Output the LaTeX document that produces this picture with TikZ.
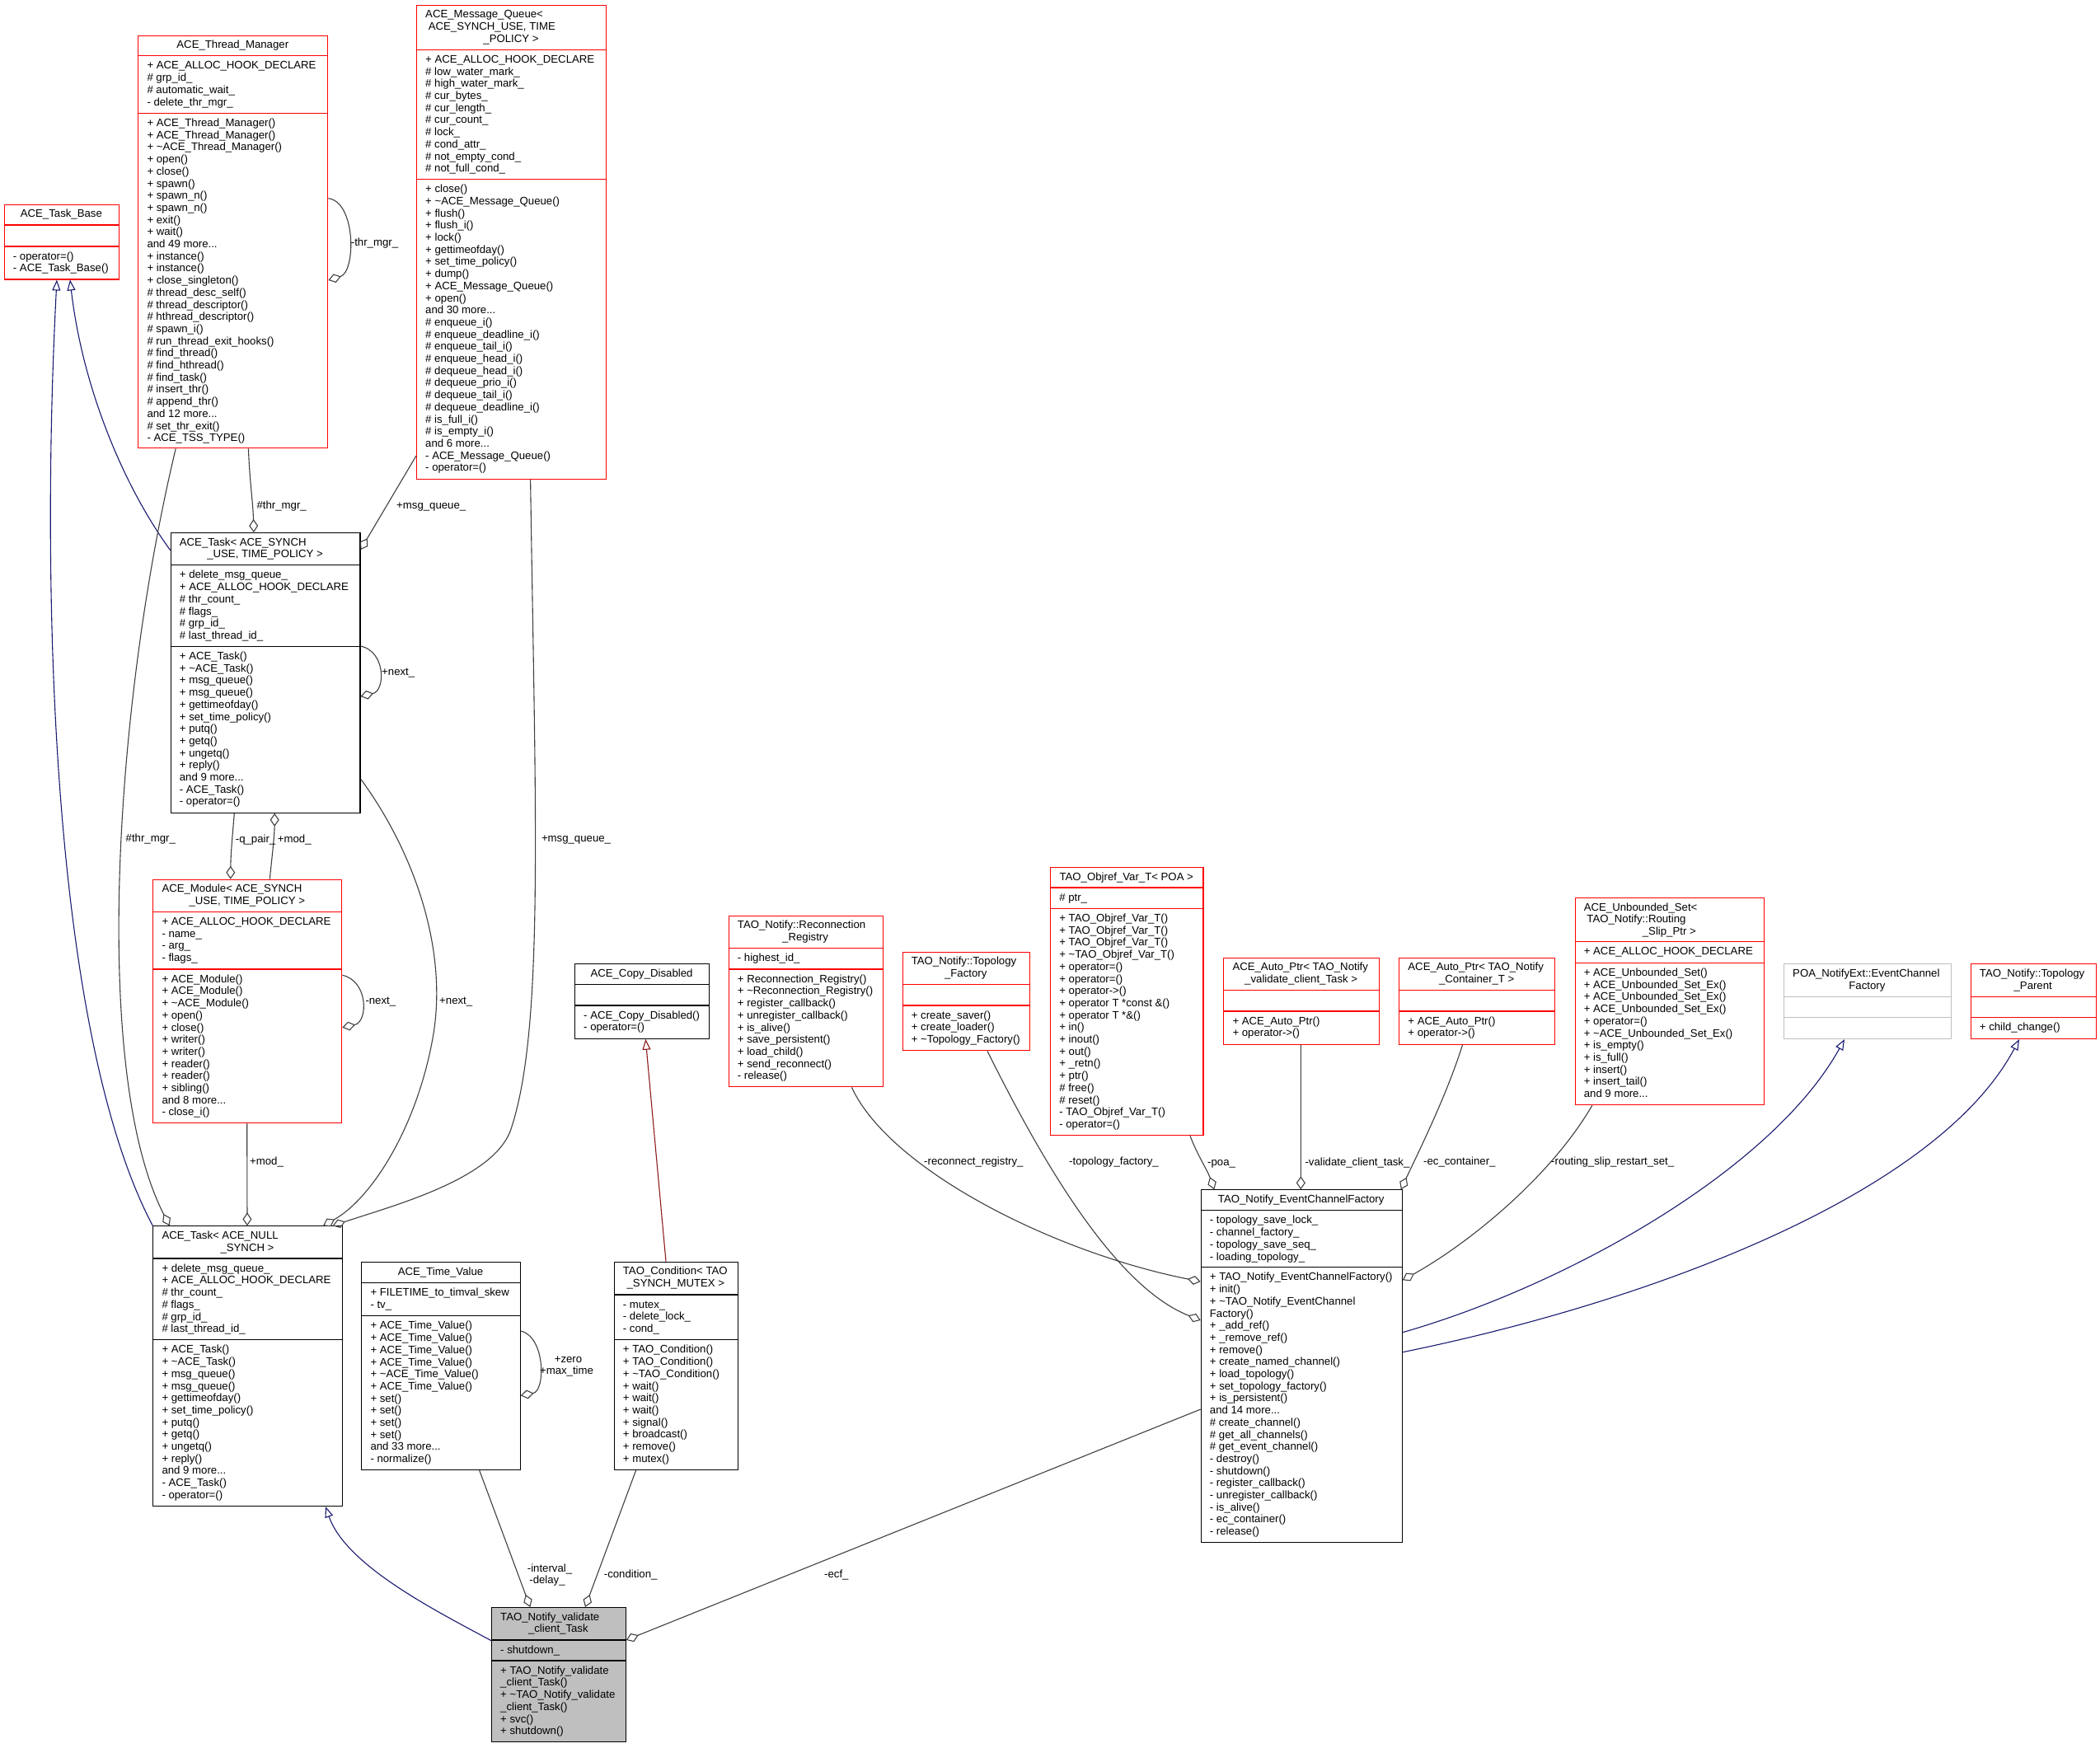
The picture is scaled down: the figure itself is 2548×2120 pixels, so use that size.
\documentclass[tikz,border=0pt]{standalone}
\usepackage{fontspec}
\setmainfont{Liberation Sans}
\usetikzlibrary{arrows.meta,calc}
\definecolor{edgegray}{HTML}{404040}
\definecolor{navyblue}{HTML}{191970}
\definecolor{firebrick}{HTML}{8B1A1A}
\definecolor{boxgray}{HTML}{BFBFBF}
\definecolor{boxred}{HTML}{FF0000}
\newcommand{\tld}{\textasciitilde}
\newcommand{\umlclass}[9][]{%
  \node[clsnode, draw=#3, #1, minimum width={#6-#4}, minimum height={#7-#5}] (#2) at (#4,#5) {};%
  \draw[draw=#3, line width=1.1pt] (#4,#8) -- (#6,#8) (#4,#9) -- (#6,#9);%
}
\newcommand{\ctitle}[4]{\node[txt, anchor=base] (#1) at ({#2},{#3}) {#4};}
\newcommand{\lblock}[4]{\node[txt, anchor=north west, align=left] (#1) at ({#2},{#3}) {\rule{0pt}{11pt}#4};}
\newcommand{\elabel}[4]{\node[txt, anchor=base west] (#1) at ({#2},{#3}) {#4};}
\newcommand{\clabel}[4]{\node[txt, anchor=base] (#1) at ({#2},{#3}) {#4};}
\catcode`\_=12
\begin{document}
\begin{tikzpicture}[x=1pt,y=-1pt,
  txt/.style={font=\fontsize{13.2}{14.7}\selectfont, inner sep=0pt, text=black},
  clsnode/.style={rectangle, anchor=north west, inner sep=0pt, line width=1.1pt},
  usage/.style={draw=edgegray, line width=1.1pt, -{Diamond[open,length=16pt,width=11pt]}},
  inh/.style={draw=navyblue, line width=1.1pt, -{Triangle[open,length=13pt,width=10pt]}},
  pinh/.style={draw=firebrick, line width=1.1pt, -{Triangle[open,length=13pt,width=10pt]}}]
\useasboundingbox (0,0) rectangle (2548,2120);
\fill[white] (0,0) rectangle (2548,2120);

% ACE_Thread_Manager
\umlclass{tm}{boxred}{167.3}{42.7}{397.3}{543.3}{67.7}{137.3}
\ctitle{tmT}{282.3}{58.7}{ACE_Thread_Manager}
\lblock{tmA}{178.3}{72.7}{+ ACE_ALLOC_HOOK_DECLARE\\\# grp_id_\\\# automatic_wait_\\- delete_thr_mgr_}
\lblock{tmM}{178.3}{142.3}{+ ACE_Thread_Manager()\\+ ACE_Thread_Manager()\\+ \tld ACE_Thread_Manager()\\+ open()\\+ close()\\+ spawn()\\+ spawn_n()\\+ spawn_n()\\+ exit()\\+ wait()\\and 49 more...\\+ instance()\\+ instance()\\+ close_singleton()\\\# thread_desc_self()\\\# thread_descriptor()\\\# hthread_descriptor()\\\# spawn_i()\\\# run_thread_exit_hooks()\\\# find_thread()\\\# find_hthread()\\\# find_task()\\\# insert_thr()\\\# append_thr()\\and 12 more...\\\# set_thr_exit()\\- ACE_TSS_TYPE()}

% ACE_Message_Queue
\umlclass{mq}{boxred}{505}{5.6}{735}{580.5}{60.2}{217.5}
\lblock{mqT}{516}{10.6}{ACE_Message_Queue<\\\hspace*{3.6pt}ACE_SYNCH_USE, TIME}
\ctitle{mqT2}{620}{51}{_POLICY >}
\lblock{mqA}{516}{65.2}{+ ACE_ALLOC_HOOK_DECLARE\\\# low_water_mark_\\\# high_water_mark_\\\# cur_bytes_\\\# cur_length_\\\# cur_count_\\\# lock_\\\# cond_attr_\\\# not_empty_cond_\\\# not_full_cond_}
\lblock{mqM}{516}{222.5}{+ close()\\+ \tld ACE_Message_Queue()\\+ flush()\\+ flush_i()\\+ lock()\\+ gettimeofday()\\+ set_time_policy()\\+ dump()\\+ ACE_Message_Queue()\\+ open()\\and 30 more...\\\# enqueue_i()\\\# enqueue_deadline_i()\\\# enqueue_tail_i()\\\# enqueue_head_i()\\\# dequeue_head_i()\\\# dequeue_prio_i()\\\# dequeue_tail_i()\\\# dequeue_deadline_i()\\\# is_full_i()\\\# is_empty_i()\\and 6 more...\\- ACE_Message_Queue()\\- operator=()}

% ACE_Task_Base
\umlclass{tb}{boxred}{4.7}{247.8}{144}{338.4}{273}{299}
\ctitle{tbT}{74.35}{263.8}{ACE_Task_Base}
\lblock{tbM}{15.7}{304}{- operator=()\\- ACE_Task_Base()}

% ACE_Task< ACE_SYNCH_USE, TIME_POLICY >
\umlclass{ts}{black}{206.7}{646}{436.4}{985.7}{685.7}{784.3}
\lblock{tsT}{217.7}{651}{ACE_Task< ACE_SYNCH}
\ctitle{tsT2}{321.55}{676.7}{_USE, TIME_POLICY >}
\lblock{tsA}{217.7}{690.7}{+ delete_msg_queue_\\+ ACE_ALLOC_HOOK_DECLARE\\\# thr_count_\\\# flags_\\\# grp_id_\\\# last_thread_id_}
\lblock{tsM}{217.7}{789.3}{+ ACE_Task()\\+ \tld ACE_Task()\\+ msg_queue()\\+ msg_queue()\\+ gettimeofday()\\+ set_time_policy()\\+ putq()\\+ getq()\\+ ungetq()\\+ reply()\\and 9 more...\\- ACE_Task()\\- operator=()}

% ACE_Module
\umlclass{mod}{boxred}{185.3}{1066.7}{414.3}{1362.3}{1106.3}{1176}
\lblock{modT}{196.3}{1071.7}{ACE_Module< ACE_SYNCH}
\ctitle{modT2}{299.8}{1097.4}{_USE, TIME_POLICY >}
\lblock{modA}{196.3}{1111.3}{+ ACE_ALLOC_HOOK_DECLARE\\- name_\\- arg_\\- flags_}
\lblock{modM}{196.3}{1181}{+ ACE_Module()\\+ ACE_Module()\\+ \tld ACE_Module()\\+ open()\\+ close()\\+ writer()\\+ writer()\\+ reader()\\+ reader()\\+ sibling()\\and 8 more...\\- close_i()}

% ACE_Task< ACE_NULL_SYNCH >
\umlclass{tn}{black}{185.3}{1487.3}{414.7}{1827}{1527}{1625.7}
\lblock{tnT}{196.3}{1492.3}{ACE_Task< ACE_NULL}
\ctitle{tnT2}{300}{1518}{_SYNCH >}
\lblock{tnA}{196.3}{1532}{+ delete_msg_queue_\\+ ACE_ALLOC_HOOK_DECLARE\\\# thr_count_\\\# flags_\\\# grp_id_\\\# last_thread_id_}
\lblock{tnM}{196.3}{1630.7}{+ ACE_Task()\\+ \tld ACE_Task()\\+ msg_queue()\\+ msg_queue()\\+ gettimeofday()\\+ set_time_policy()\\+ putq()\\+ getq()\\+ ungetq()\\+ reply()\\and 9 more...\\- ACE_Task()\\- operator=()}

% ACE_Time_Value
\umlclass{tv}{black}{438.3}{1531}{630.7}{1783}{1556.7}{1596.7}
\ctitle{tvT}{534.5}{1547}{ACE_Time_Value}
\lblock{tvA}{449.3}{1561.7}{+ FILETIME_to_timval_skew\\- tv_}
\lblock{tvM}{449.3}{1601.7}{+ ACE_Time_Value()\\+ ACE_Time_Value()\\+ ACE_Time_Value()\\+ ACE_Time_Value()\\+ \tld ACE_Time_Value()\\+ ACE_Time_Value()\\+ set()\\+ set()\\+ set()\\+ set()\\and 33 more...\\- normalize()}

% ACE_Copy_Disabled
\umlclass{cd}{black}{697}{1169.3}{860}{1259.7}{1194.3}{1220}
\ctitle{cdT}{778.5}{1185.3}{ACE_Copy_Disabled}
\lblock{cdM}{708}{1225}{- ACE_Copy_Disabled()\\- operator=()}

% TAO_Condition
\umlclass{tc}{black}{744.7}{1530.7}{895}{1782.7}{1571}{1625.7}
\lblock{tcT}{755.7}{1535.7}{TAO_Condition< TAO}
\ctitle{tcT2}{819.85}{1561.4}{_SYNCH_MUTEX >}
\lblock{tcA}{755.7}{1576}{- mutex_\\- delete_lock_\\- cond_}
\lblock{tcM}{755.7}{1630.7}{+ TAO_Condition()\\+ TAO_Condition()\\+ \tld TAO_Condition()\\+ wait()\\+ wait()\\+ wait()\\+ signal()\\+ broadcast()\\+ remove()\\+ mutex()}

% TAO_Notify_validate_client_Task
\umlclass[fill=boxgray]{vt}{black}{596}{1950}{758.7}{2113.3}{1990}{2015}
\lblock{vtT}{607}{1955}{TAO_Notify_validate}
\ctitle{vtT2}{677.35}{1980.7}{_client_Task}
\lblock{vtA}{607}{1995}{- shutdown_}
\lblock{vtM}{607}{2020}{+ TAO_Notify_validate\\_client_Task()\\+ \tld TAO_Notify_validate\\_client_Task()\\+ svc()\\+ shutdown()}

% TAO_Notify::Reconnection_Registry
\umlclass{rr}{boxred}{883.7}{1110.7}{1070.5}{1318.3}{1150.7}{1176}
\lblock{rrT}{894.7}{1115.7}{TAO_Notify::Reconnection}
\ctitle{rrT2}{977.1}{1141.4}{_Registry}
\lblock{rrA}{894.7}{1155.7}{- highest_id_}
\lblock{rrM}{894.7}{1181}{+ Reconnection_Registry()\\+ \tld Reconnection_Registry()\\+ register_callback()\\+ unregister_callback()\\+ is_alive()\\+ save_persistent()\\+ load_child()\\+ send_reconnect()\\- release()}

% TAO_Notify::Topology_Factory
\umlclass{tf}{boxred}{1094.6}{1154.7}{1248.9}{1274.3}{1194.7}{1220}
\lblock{tfT}{1105.6}{1159.7}{TAO_Notify::Topology}
\ctitle{tfT2}{1171.75}{1185.4}{_Factory}
\lblock{tfM}{1105.6}{1225}{+ create_saver()\\+ create_loader()\\+ \tld Topology_Factory()}

% TAO_Objref_Var_T< POA >
\umlclass{ov}{boxred}{1274.1}{1052}{1459.4}{1377}{1077}{1102.3}
\ctitle{ovT}{1366.75}{1068}{TAO_Objref_Var_T< POA >}
\lblock{ovA}{1285.1}{1082}{\# ptr_}
\lblock{ovM}{1285.1}{1107.3}{+ TAO_Objref_Var_T()\\+ TAO_Objref_Var_T()\\+ TAO_Objref_Var_T()\\+ \tld TAO_Objref_Var_T()\\+ operator=()\\+ operator=()\\+ operator->()\\+ operator T *const \&()\\+ operator T *\&()\\+ in()\\+ inout()\\+ out()\\+ _retn()\\+ ptr()\\\# free()\\\# reset()\\- TAO_Objref_Var_T()\\- operator=()}

% ACE_Auto_Ptr< TAO_Notify_validate_client_Task >
\umlclass{apa}{boxred}{1484.3}{1161.7}{1673}{1267}{1201.7}{1227}
\lblock{apaT}{1495.3}{1166.7}{ACE_Auto_Ptr< TAO_Notify}
\ctitle{apaT2}{1578.65}{1192.4}{_validate_client_Task >}
\lblock{apaM}{1495.3}{1232}{+ ACE_Auto_Ptr()\\+ operator->()}

% ACE_Auto_Ptr< TAO_Notify_Container_T >
\umlclass{apb}{boxred}{1697.2}{1161.7}{1886.3}{1267}{1201.7}{1227}
\lblock{apbT}{1708.2}{1166.7}{ACE_Auto_Ptr< TAO_Notify}
\ctitle{apbT2}{1791.75}{1192.4}{_Container_T >}
\lblock{apbM}{1708.2}{1232}{+ ACE_Auto_Ptr()\\+ operator->()}

% ACE_Unbounded_Set
\umlclass{us}{boxred}{1910.6}{1089}{2140}{1340.3}{1142.7}{1168.3}
\lblock{usT}{1921.6}{1094}{ACE_Unbounded_Set<\\\hspace*{3.6pt}TAO_Notify::Routing}
\ctitle{usT2}{2025.3}{1134.4}{_Slip_Ptr >}
\lblock{usA}{1921.6}{1147.7}{+ ACE_ALLOC_HOOK_DECLARE}
\lblock{usM}{1921.6}{1173.3}{+ ACE_Unbounded_Set()\\+ ACE_Unbounded_Set_Ex()\\+ ACE_Unbounded_Set_Ex()\\+ ACE_Unbounded_Set_Ex()\\+ operator=()\\+ \tld ACE_Unbounded_Set_Ex()\\+ is_empty()\\+ is_full()\\+ insert()\\+ insert_tail()\\and 9 more...}

% POA_NotifyExt::EventChannelFactory
\umlclass{poa}{boxgray}{2164}{1169.3}{2366.7}{1260}{1209.3}{1234.3}
\lblock{poaT}{2175}{1174.3}{POA_NotifyExt::EventChannel}
\ctitle{poaT2}{2265.35}{1200}{Factory}

% TAO_Notify::Topology_Parent
\umlclass{tp}{boxred}{2390.7}{1169.3}{2542.7}{1260}{1209.3}{1234.3}
\lblock{tpT}{2401.7}{1174.3}{TAO_Notify::Topology}
\ctitle{tpT2}{2466.7}{1200}{_Parent}
\lblock{tpM}{2401.7}{1239.3}{+ child_change()}

% TAO_Notify_EventChannelFactory
\umlclass{ecf}{black}{1456.7}{1443.3}{1700.7}{1870.7}{1468.7}{1537.7}
\ctitle{ecfT}{1578.7}{1459.3}{TAO_Notify_EventChannelFactory}
\lblock{ecfA}{1467.7}{1473.7}{- topology_save_lock_\\- channel_factory_\\- topology_save_seq_\\- loading_topology_}
\lblock{ecfM}{1467.7}{1542.7}{+ TAO_Notify_EventChannelFactory()\\+ init()\\+ \tld TAO_Notify_EventChannel\\Factory()\\+ _add_ref()\\+ _remove_ref()\\+ remove()\\+ create_named_channel()\\+ load_topology()\\+ set_topology_factory()\\+ is_persistent()\\and 14 more...\\\# create_channel()\\\# get_all_channels()\\\# get_event_channel()\\- destroy()\\- shutdown()\\- register_callback()\\- unregister_callback()\\- is_alive()\\- ec_container()\\- release()}

% ---------------- connectors ----------------
\draw[inh] (tn.north west) .. controls (60,1250) and (50,700) .. ($(tb.south west)+(64.3,0)$);
\draw[inh] ($(ts.north west)+(0,21.7)$) .. controls (150,590) and (100,470) .. ($(tb.south west)+(80.3,0)$);
\draw[usage] ($(tm.south west)+(134.1,0)$) .. controls (303,585) and (307,610) .. ($(ts.north west)+(101.2,0)$);
\draw[usage] ($(tm.south west)+(45.9,0)$) .. controls (140,850) and (110,1300) .. ($(tn.north west)+(20.4,0)$);
\draw[usage] ($(tm.north east)+(0,198)$) .. controls (432,245) and (432,330) .. ($(tm.north east)+(0,297.3)$);
\draw[usage] ($(mq.north west)+(0,547.4)$) -- ($(ts.north east)+(0,21)$);
\draw[usage] ($(mq.south west)+(138.6,0)$) .. controls (650,1000) and (660,1250) .. (620,1370) .. controls (600,1430) and (480,1462) .. ($(tn.north west)+(218.4,0)$);
\draw[usage] ($(ts.north east)+(0,299)$) .. controls (500,1030) and (545,1150) .. (525,1260) .. controls (505,1370) and (450,1455) .. ($(tn.north west)+(206.7,0)$);
\draw[usage] ($(ts.north east)+(0,138)$) .. controls (468,790) and (468,838) .. ($(ts.north east)+(0,199)$);
\draw[usage] ($(ts.south west)+(77.6,0)$) .. controls (282,1015) and (280,1035) .. ($(mod.north west)+(94.4,0)$);
\draw[usage] ($(mod.north west)+(142,0)$) .. controls (330,1040) and (333,1015) .. ($(ts.south west)+(126.6,0)$);
\draw[usage] ($(mod.north east)+(0,116.6)$) .. controls (447,1190) and (447,1240) .. ($(mod.north east)+(0,180)$);
\draw[usage] ($(mod.south west)+(114.4,0)$) -- ($(tn.north west)+(114.7,0)$);
\draw[inh] ($(vt.north west)+(0,40.7)$) .. controls (530,1955) and (420,1900) .. ($(tn.south west)+(209.7,0)$);
\draw[usage] ($(tv.south west)+(143.4,0)$) -- ($(vt.north west)+(47.3,0)$);
\draw[usage] ($(tv.north east)+(0,84)$) .. controls (662,1622) and (662,1688) .. ($(tv.north east)+(0,162.3)$);
\draw[usage] ($(tc.south west)+(27,0)$) -- ($(vt.north west)+(114,0)$);
\draw[pinh] ($(tc.north west)+(63.3,0)$) -- ($(cd.south west)+(86.3,0)$);
\draw[usage] ($(ecf.north west)+(0,266.7)$) -- ($(vt.north east)+(0,40)$);
\draw[usage] ($(rr.south west)+(149.7,0)$) .. controls (1080,1420) and (1280,1520) .. ($(ecf.north west)+(0,111.7)$);
\draw[usage] ($(tf.south west)+(103.4,0)$) .. controls (1260,1400) and (1350,1560) .. ($(ecf.north west)+(0,158.7)$);
\draw[usage] ($(ov.south west)+(169.9,0)$) .. controls (1452,1400) and (1465,1420) .. ($(ecf.north west)+(16.6,0)$);
\draw[usage] ($(apa.south west)+(94.1,0)$) -- ($(ecf.north west)+(121.6,0)$);
\draw[usage] ($(apb.south west)+(77.2,0)$) .. controls (1755,1330) and (1720,1400) .. ($(ecf.north east)+(-2,0)$);
\draw[usage] ($(us.south west)+(21.2,0)$) .. controls (1880,1430) and (1780,1510) .. ($(ecf.north east)+(0,110)$);
\draw[inh] ($(ecf.north east)+(0,173.4)$) .. controls (1900,1560) and (2150,1420) .. ($(poa.south west)+(74,0)$);
\draw[inh] ($(ecf.north east)+(0,197.4)$) .. controls (2000,1580) and (2350,1450) .. ($(tp.south west)+(59.3,0)$);

% ---------------- labels ----------------
\elabel{l1}{425.7}{298.5}{-thr_mgr_}
\elabel{l2}{311.4}{617.2}{\#thr_mgr_}
\elabel{l3}{481}{617.2}{+msg_queue_}
\elabel{l4}{463}{819.5}{+next_}
\elabel{l5}{152.5}{1021.8}{\#thr_mgr_}
\elabel{l6}{285.7}{1022.5}{-q_pair_}
\elabel{l7}{336.7}{1022.5}{+mod_}
\elabel{l8}{656.8}{1021.5}{+msg_queue_}
\elabel{l9}{533}{1218.5}{+next_}
\elabel{l10}{443.3}{1218.5}{-next_}
\elabel{l11}{303}{1413.5}{+mod_}
\clabel{l12}{689.5}{1653.5}{+zero}
\clabel{l13}{687.5}{1667.8}{+max_time}
\clabel{l14}{667}{1907.2}{-interval_}
\clabel{l15}{664}{1921.2}{-delay_}
\elabel{l16}{732.7}{1914.5}{-condition_}
\elabel{l17}{1000}{1914.5}{-ecf_}
\elabel{l18}{1121}{1413.5}{-reconnect_registry_}
\elabel{l19}{1297}{1413.5}{-topology_factory_}
\elabel{l20}{1465}{1414.5}{-poa_}
\elabel{l21}{1583.3}{1414.5}{-validate_client_task_}
\elabel{l22}{1727}{1413.5}{-ec_container_}
\elabel{l23}{1882}{1413.5}{-routing_slip_restart_set_}
\end{tikzpicture}
\end{document}
